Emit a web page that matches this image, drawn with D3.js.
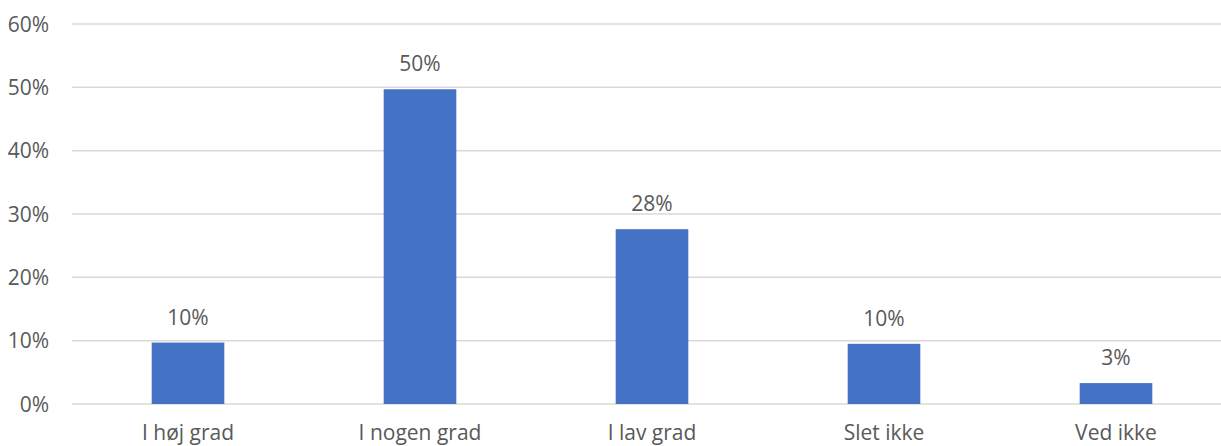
<!DOCTYPE html>
<html>
<head>
<meta charset="utf-8">
<script src="https://cdn.jsdelivr.net/npm/d3@7"></script>
<style>
  html, body { margin: 0; padding: 0; background: #ffffff; }
  svg { display: block; }
  text { font-family: "Open Sans", sans-serif; fill: #595959; }
</style>
</head>
<body>
<svg id="chart" width="1221" height="446"></svg>
<script>
const categories = ["I høj grad", "I nogen grad", "I lav grad", "Slet ikke", "Ved ikke"];
const values = [9.7, 49.7, 27.6, 9.5, 3.3];
const yTicks = [0, 10, 20, 30, 40, 50, 60];

const svg = d3.select("#chart");
const mLeft = 72, mRight = 1232, mTop = 24, mBottom = 404;

const x = d3.scaleBand()
  .domain(categories)
  .range([mLeft, mRight])
  .paddingInner(0.687)
  .paddingOuter(0.3435);

const y = d3.scaleLinear().domain([0, 60]).range([mBottom, mTop]);

// gridlines
svg.append("g")
  .selectAll("line")
  .data(yTicks)
  .join("line")
  .attr("x1", mLeft)
  .attr("x2", 1221)
  .attr("y1", d => y(d))
  .attr("y2", d => y(d))
  .attr("stroke", "#d9d9d9")
  .attr("stroke-width", 1.5);

// y tick labels
svg.append("g")
  .selectAll("text")
  .data(yTicks)
  .join("text")
  .attr("x", 49)
  .attr("y", d => y(d))
  .attr("dy", "0.36em")
  .attr("text-anchor", "end")
  .attr("font-size", 21)
  .text(d => d + "%");

// bars
svg.append("g")
  .selectAll("rect")
  .data(values)
  .join("rect")
  .attr("x", (d, i) => x(categories[i]))
  .attr("width", x.bandwidth())
  .attr("y", d => y(d))
  .attr("height", d => y(0) - y(d))
  .attr("fill", "#4472C4");

// data labels
svg.append("g")
  .selectAll("text")
  .data(values)
  .join("text")
  .attr("x", (d, i) => x(categories[i]) + x.bandwidth() / 2)
  .attr("y", d => y(d) - 18)
  .attr("text-anchor", "middle")
  .attr("font-size", 21)
  .text(d => Math.round(d) + "%");

// category labels
svg.append("g")
  .selectAll("text")
  .data(categories)
  .join("text")
  .attr("x", d => x(d) + x.bandwidth() / 2)
  .attr("y", 440)
  .attr("text-anchor", "middle")
  .attr("font-size", 21)
  .text(d => d);
</script>
</body>
</html>
